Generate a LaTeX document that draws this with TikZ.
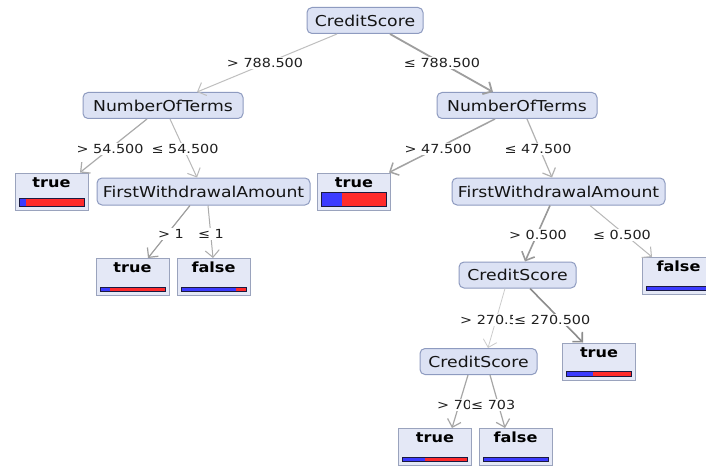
\documentclass[tikz,border=0pt]{standalone}
\usepackage{fontspec}
\setmainfont{DejaVu Sans}
\newfontfamily\wf[FakeStretch=1.15]{DejaVu Sans}
\usetikzlibrary{arrows.meta,calc}
\definecolor{nodefill}{HTML}{DCE2F4}
\definecolor{nodeborder}{HTML}{8E9BC0}
\definecolor{leaffill}{HTML}{E4E8F6}
\definecolor{leafborder}{HTML}{9AA3BD}
\definecolor{barblue}{HTML}{3B3BFF}
\definecolor{barred}{HTML}{FF2B2B}
\definecolor{barline}{HTML}{1A1A40}
\begin{document}
\begin{tikzpicture}[x=1pt,y=-1pt,
  inner/.style={rounded corners=5pt, draw=nodeborder, fill=nodefill, line width=1pt,
    font=\wf\fontsize{15}{18}\selectfont, minimum height=26pt, inner xsep=0pt, text=black!92},
  leaf/.style n args={2}{rectangle, draw=leafborder, fill=leaffill, line width=1pt,
    minimum width=73pt, minimum height=37pt, inner xsep=0pt, inner ysep=3pt,
    text height=11pt, text depth=20pt, font=\wf\bfseries\fontsize{14}{16}\selectfont, text=black,
    path picture={
      \coordinate (bl) at ([shift={(4pt,4pt)}]path picture bounding box.south west);
      \coordinate (br) at ([shift={(-4pt,{4pt+#2})}]path picture bounding box.south east);
      \fill[barred] (bl) rectangle (br);
      \fill[barblue] let \p1=(bl), \p2=(br) in (\x1,\y1) rectangle ({\x1+#1*(\x2-\x1)},\y2);
      \draw[barline, line width=0.8pt] (bl) rectangle (br);
    }},
  edge/.style n args={2}{draw=#1, line width=#2, -{Straight Barb[length=7pt,width=14pt]}},
  elabel/.style={fill=white, inner sep=1pt, font=\wf\fontsize{12.5}{15}\selectfont, text=black!88}
]
\clip (0,0) rectangle (706,468);
\fill[white] (0,0) rectangle (706,468);

% nodes
\node[inner, minimum width=116pt] (cs1) at (365,20.5) {CreditScore};
\node[inner, minimum width=160pt] (not1) at (163,105.5) {NumberOfTerms};
\node[inner, minimum width=160pt] (not2) at (517,105.5) {NumberOfTerms};
\node[leaf={0.1}{8pt}] (tl) at (51.5,191.5) {true};
\node[inner, minimum width=213pt, minimum height=27pt] (fwa1) at (203.5,191.5) {FirstWithdrawalAmount};
\node[leaf={0.32}{14pt}] (tm) at (354,191.5) {true};
\node[inner, minimum width=213pt, minimum height=27pt] (fwa2) at (558.5,191.5) {FirstWithdrawalAmount};
\node[leaf={0.15}{4pt}] (tll) at (132.5,277) {true};
\node[leaf={0.85}{4pt}] (fll) at (213.5,277) {false};
\node[inner, minimum width=117pt] (cs2) at (517.5,275) {CreditScore};
\node[leaf={0.95}{4pt}] (fr) at (678.5,276) {false};
\node[inner, minimum width=117pt] (cs3) at (478.5,361.5) {CreditScore};
\node[leaf={0.4}{5pt}] (tr) at (599,361.5) {true};
\node[leaf={0.35}{4pt}] (tb) at (435,447) {true};
\node[leaf={1.0}{4pt}] (fb) at (515.5,447) {false};

% edges
\draw[edge={black!25}{1pt}] ([xshift=-28pt]cs1.south) -- ([xshift=34pt]not1.north);
\draw[edge={black!38}{1.8pt}] ([xshift=25pt]cs1.south) -- ([xshift=-24pt]not2.north);
\draw[edge={black!33}{1.2pt}] ([xshift=-16pt]not1.south) -- ([xshift=28.5pt]tl.north);
\draw[edge={black!28}{1pt}] ([xshift=7pt]not1.south) -- ([xshift=-6.5pt]fwa1.north);
\draw[edge={black!36}{1.5pt}] ([xshift=-22pt]not2.south) -- ([xshift=35pt]tm.north);
\draw[edge={black!30}{1.2pt}] ([xshift=10pt]not2.south) -- ([xshift=-6.5pt]fwa2.north);
\draw[edge={black!38}{1.2pt}] ([xshift=-13.5pt]fwa1.south) -- ([xshift=15.5pt]tll.north);
\draw[edge={black!33}{1pt}] ([xshift=4.5pt]fwa1.south) -- ([xshift=-0.5pt]fll.north);
\draw[edge={black!40}{1.6pt}] ([xshift=-8.5pt]fwa2.south) -- ([xshift=7.5pt]cs2.north);
\draw[edge={black!28}{1pt}] ([xshift=31.5pt]fwa2.south) -- ([xshift=-26.5pt]fr.north);
\draw[edge={black!20}{0.8pt}] ([xshift=-12.5pt]cs2.south) -- ([xshift=9.5pt]cs3.north);
\draw[edge={black!45}{1.6pt}] ([xshift=12.5pt]cs2.south) -- ([xshift=-16pt]tr.north);
\draw[edge={black!35}{1.2pt}] ([xshift=-10.5pt]cs3.south) -- ([xshift=17pt]tb.north);
\draw[edge={black!35}{1.2pt}] ([xshift=11.5pt]cs3.south) -- ([xshift=-10.5pt]fb.north);

% edge labels
\node[elabel] (l1) at (265,63) {> 788.500};
\node[elabel] (l2) at (442,63) {≤ 788.500};
\node[elabel] (l3) at (110,149) {> 54.500};
\node[elabel] (l4) at (185,149) {≤ 54.500};
\node[elabel] (l5) at (438,149) {> 47.500};
\node[elabel] (l6) at (538,149) {≤ 47.500};
\node[elabel] (l7) at (171,234) {> 1};
\node[elabel] (l8) at (211,234) {≤ 1};
\node[elabel] (l9) at (538,235) {> 0.500};
\node[elabel] (l10) at (622,235) {≤ 0.500};
\node[elabel, anchor=west] (l11) at (459,320) {> 270.500};
\node[elabel, anchor=west] (l12) at (513,320) {≤ 270.500};
\node[elabel, anchor=west] (l13) at (436,405) {> 703};
\node[elabel, anchor=west] (l14) at (470,405) {≤ 703};
\end{tikzpicture}
\end{document}
